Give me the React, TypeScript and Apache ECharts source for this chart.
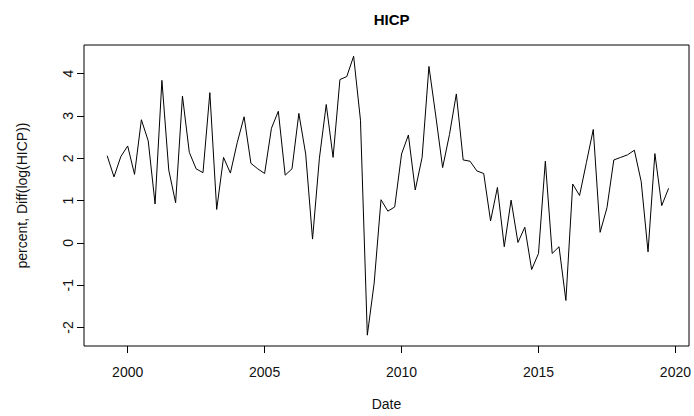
import React, { useEffect, useRef } from "react";
import * as echarts from "echarts";

// Quarterly series, first observation 1999 Q2 (1999.25), step one quarter
const START_QUARTER = 1999.25;
const QUARTER_STEP = 0.25;
const hicpValues = [
  2.06, 1.56, 2.04, 2.29, 1.62, 2.91, 2.41, 0.92, 3.84, 1.72,
  0.95, 3.47, 2.14, 1.75, 1.66, 3.55, 0.79, 2.02, 1.65, 2.37,
  2.98, 1.88, 1.75, 1.64, 2.71, 3.11, 1.60, 1.75, 3.06, 2.10,
  0.09, 2.0, 3.27, 2.02, 3.86, 3.93, 4.41, 2.9, -2.18, -0.95,
  1.02, 0.75, 0.85, 2.10, 2.55, 1.25, 2.02, 4.17, 3.0, 1.78,
  2.56, 3.52, 1.96, 1.93, 1.70, 1.64, 0.52, 1.31, -0.09, 1.01,
  0.01, 0.37, -0.63, -0.25, 1.93, -0.25, -0.09, -1.36, 1.39, 1.12,
  1.90, 2.68, 0.25, 0.83, 1.96, 2.02, 2.08, 2.19, 1.45, -0.21,
  2.11, 0.88, 1.29,
];
const xTickLabels = [2000, 2005, 2010, 2015, 2020];
const yTickLabels = [-2, -1, 0, 1, 2, 3, 4];

const FONT = "Liberation Sans";
const TEXT_COLOR = "#111";

export default function App() {
  const ref = useRef<HTMLDivElement>(null);
  useEffect(() => {
    document.body.style.margin = "0";
    const chart = echarts.init(ref.current!, null, { renderer: "svg" });
    const seriesData = hicpValues.map((v, i) => [START_QUARTER + i * QUARTER_STEP, v]);
    chart.setOption({
      animation: false,
      backgroundColor: "#fff",
      title: {
        text: "HICP",
        left: 386.6,
        top: 7,
        textAlign: "center",
        textStyle: { fontFamily: FONT, fontSize: 15, fontWeight: "bold", color: "#000" },
      },
      grid: {
        left: 84,
        right: 4.7,
        top: 45,
        bottom: 62.7,
        show: true,
        borderColor: "#000",
        borderWidth: 1,
        backgroundColor: "transparent",
      },
      xAxis: {
        type: "value",
        min: 1998.405,
        max: 2020.496,
        name: "Date",
        nameLocation: "middle",
        nameGap: 51,
        nameTextStyle: { fontFamily: FONT, fontSize: 14, color: TEXT_COLOR },
        axisLine: { show: false, onZero: false },
        axisTick: {
          show: true,
          customValues: xTickLabels,
          length: 7,
          inside: false,
          lineStyle: { color: "#000", width: 1 },
        },
        axisLabel: {
          customValues: xTickLabels,
          margin: 19,
          fontFamily: FONT,
          fontSize: 14,
          color: TEXT_COLOR,
          formatter: (v: number) => String(Math.round(v)),
        },
        splitLine: { show: false },
      },
      yAxis: {
        type: "value",
        min: -2.436,
        max: 4.676,
        name: "percent, Diff(log(HICP))",
        nameLocation: "middle",
        nameRotate: 90,
        nameGap: 55,
        nameTextStyle: { fontFamily: FONT, fontSize: 14, color: TEXT_COLOR },
        axisLine: { show: false, onZero: false },
        axisTick: {
          show: true,
          customValues: yTickLabels,
          length: 7,
          inside: false,
          lineStyle: { color: "#000", width: 1 },
        },
        axisLabel: {
          customValues: yTickLabels,
          rotate: 90,
          margin: 9,
          fontFamily: FONT,
          fontSize: 14,
          color: TEXT_COLOR,
          formatter: (v: number) => String(Math.round(v)),
        },
        splitLine: { show: false },
      },
      series: [
        {
          type: "line",
          data: seriesData,
          symbol: "none",
          showSymbol: false,
          silent: true,
          lineStyle: { color: "#000", width: 1 },
        },
      ],
    });
    return () => chart.dispose();
  }, []);
  return <div ref={ref} style={{ width: 694, height: 416 }} />;
}
